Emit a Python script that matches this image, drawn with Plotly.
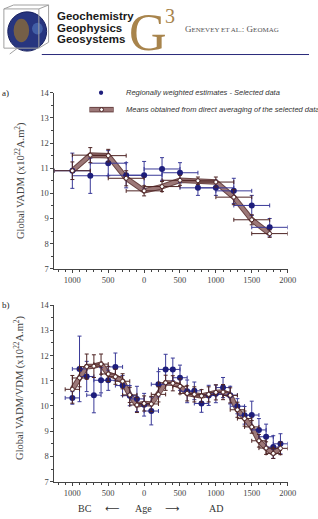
import plotly.graph_objects as go

# ---------------- data ----------------
# Panel a : 500-yr windows every 250 yr
years_a = [-1000, -750, -500, -250, 0, 250, 500, 750, 1000, 1250, 1500, 1750]
reg_a = [10.9, 10.7, 11.2, 10.72, 10.72, 10.97, 10.82, 10.22, 10.22, 10.1, 9.52, 8.65]
reg_a_err = [0.7, 0.7, 0.5, 0.5, 0.55, 0.45, 0.4, 0.3, 0.3, 0.5, 0.4, 0.35]
mean_a = [10.9, 11.52, 11.5, 10.6, 10.1, 10.27, 10.52, 10.5, 10.45, 9.85, 8.95, 8.4]
mean_a_err = [0.35, 0.3, 0.25, 0.3, 0.2, 0.2, 0.2, 0.15, 0.2, 0.3, 0.2, 0.15]
half_window_a = 250

# Panel b : 200-yr windows every 100 yr
years_b = [-1000, -900, -800, -700, -600, -500, -400, -300, -200, -100,
           0, 100, 200, 300, 400, 500, 600, 700, 800, 900,
           1000, 1100, 1200, 1300, 1400, 1500, 1600, 1700, 1800, 1900]
reg_b = [10.32, 11.47, 11.17, 10.43, 11.02, 11.02, 11.55, 10.81, 10.41, 10.28,
         10.05, 9.8, 10.86, 11.45, 11.45, 11.12, 10.58, 10.6, 10.1, 10.42,
         10.48, 10.73, 10.43, 9.99, 9.63, 9.64, 9.05, 8.78, 8.37, 8.5]
reg_b_err = [0.25, 1.3, 0.6, 0.7, 0.5, 0.4, 0.55, 0.4, 0.4, 0.5,
             0.45, 0.55, 0.5, 0.6, 0.45, 0.5, 0.45, 0.35, 0.35, 0.4,
             0.35, 0.4, 0.35, 0.3, 0.35, 0.55, 0.45, 0.5, 0.45, 0.4]
mean_b = [10.66, 11.11, 11.56, 11.58, 11.66, 11.27, 11.16, 10.98, 10.44, 10.04,
          10.1, 10.08, 10.46, 10.92, 10.9, 10.78, 10.5, 10.46, 10.4, 10.46,
          10.54, 10.55, 10.42, 9.85, 9.5, 9.17, 8.62, 8.33, 8.12, 8.32]
mean_b_err = [0.55, 0.35, 0.5, 0.45, 0.4, 0.3, 0.3, 0.3, 0.3, 0.3,
              0.3, 0.3, 0.3, 0.3, 0.3, 0.3, 0.3, 0.3, 0.25, 0.3,
              0.3, 0.3, 0.3, 0.3, 0.3, 0.25, 0.25, 0.25, 0.2, 0.25]
half_window_b = 100

x_tickvals = [-1000, -500, 0, 500, 1000, 1500, 2000]
x_ticktext = ["1000", "500", "0", "500", "1000", "1500", "2000"]
y_tickvals = [7, 8, 9, 10, 11, 12, 13, 14]

W, H = 318, 519
BLUE = "#1e1e7c"
BLUE_ERR = "#3a3a98"
BROWN_DARK = "#4e2424"
BROWN_EDGE = "#6a4444"
BROWN_LINE = "#9c7878"
TXT = "#444444"
SERIF = "Liberation Serif, Times New Roman, serif"
SANS = "Liberation Sans, Arial, sans-serif"


def px(x):
    return x / W


def py(y):
    return 1 - y / H


fig = go.Figure()


def add_panel(xs, reg, reg_err, mean, mean_err, hw, xa, ya):
    fig.add_trace(go.Scatter(x=xs, y=mean, mode="lines", xaxis=xa, yaxis=ya,
                             line=dict(color=BROWN_EDGE, width=5.5), showlegend=False,
                             hoverinfo="skip"))
    fig.add_trace(go.Scatter(x=xs, y=mean, mode="lines", xaxis=xa, yaxis=ya,
                             line=dict(color=BROWN_LINE, width=3.5), showlegend=False,
                             hoverinfo="skip"))
    fig.add_trace(go.Scatter(
        x=xs, y=reg, mode="markers", xaxis=xa, yaxis=ya, showlegend=False,
        marker=dict(color=BLUE, size=6),
        error_y=dict(type="data", array=reg_err, color=BLUE_ERR, thickness=1, width=2),
        error_x=dict(type="constant", value=hw, color=BLUE_ERR, thickness=1, width=2)))
    fig.add_trace(go.Scatter(
        x=xs, y=mean, mode="markers", xaxis=xa, yaxis=ya, showlegend=False,
        marker=dict(color="white", size=4, line=dict(color=BROWN_DARK, width=1)),
        error_y=dict(type="data", array=mean_err, color=BROWN_DARK, thickness=1, width=2),
        error_x=dict(type="constant", value=hw, color=BROWN_DARK, thickness=1, width=2)))


add_panel(years_a, reg_a, reg_a_err, mean_a, mean_a_err, half_window_a, "x", "y")
add_panel(years_b, reg_b, reg_b_err, mean_b, mean_b_err, half_window_b, "x2", "y2")

xdom = [px(56), px(296)]
ax_common = dict(showline=True, linecolor="#444444", linewidth=1, showgrid=False,
                 zeroline=False, ticks="outside", ticklen=3, tickcolor="#444444",
                 tickfont=dict(family=SERIF, size=8.5, color=TXT))
xcommon = dict(ax_common, range=[-1250, 2000], domain=xdom, tickvals=x_tickvals,
               ticktext=x_ticktext,
               minor=dict(dtick=100, tick0=0, ticks="outside", ticklen=2, tickcolor="#444444"))
ycommon = dict(ax_common, range=[7, 14], tickvals=y_tickvals,
               minor=dict(dtick=0.5, tick0=7, ticks="outside", ticklen=2, tickcolor="#444444"))

fig.update_layout(
    width=W, height=H, autosize=False,
    margin=dict(l=0, r=0, t=0, b=0),
    paper_bgcolor="white", plot_bgcolor="white",
    xaxis=dict(xcommon, anchor="y"),
    yaxis=dict(ycommon, domain=[py(269), py(89.5)], anchor="x"),
    xaxis2=dict(xcommon, anchor="y2"),
    yaxis2=dict(ycommon, domain=[py(486), py(306)], anchor="x2"),
)

annotations = []
shapes = []


def note(x, y, text, size, family=SERIF, color=TXT, xanchor="center", angle=0):
    annotations.append(dict(x=px(x), y=py(y), xref="paper", yref="paper", text=text,
                            xanchor=xanchor, yanchor="middle", textangle=angle,
                            showarrow=False, font=dict(family=family, size=size, color=color)))


# y-axis titles
note(20, 179, "Global VADM (x10<sup>22</sup>A.m<sup>2</sup>)", 10.5, angle=-90)
note(20, 390, "Global VADM/VDM (x10<sup>22</sup>A.m<sup>2</sup>)", 10.5, angle=-90)
# panel letters
note(0, 90, "a)", 9, color="#222", xanchor="left")
note(0, 306, "b)", 9, color="#222", xanchor="left")

# bottom "BC <- Age -> AD"
for xx, t, fam in [(87, "BC", SERIF), (115, "⟵", "DejaVu Sans"), (148, "Age", SERIF),
                   (177, "⟶", "DejaVu Sans"), (222, "AD", SERIF)]:
    note(xx, 513, t, 10, family=fam, color="#333")

# legend (drawn manually)
note(128, 89.5, "<i>Regionally weighted estimates - Selected data</i>", 7.5,
     family=SANS, color="#333", xanchor="left")
note(128, 106.7, "<i>Means obtained from direct averaging of the selected data</i>", 7.5,
     family=SANS, color="#333", xanchor="left")
shapes.append(dict(type="circle", xref="paper", yref="paper",
                   x0=px(101.8), x1=px(106.2), y0=py(91.7), y1=py(87.3),
                   fillcolor=BLUE, line=dict(color=BLUE, width=0)))
shapes.append(dict(type="line", xref="paper", yref="paper", x0=px(92), x1=px(117),
                   y0=py(106.7), y1=py(106.7), line=dict(color=BROWN_EDGE, width=5.5)))
shapes.append(dict(type="line", xref="paper", yref="paper", x0=px(92.5), x1=px(116.5),
                   y0=py(106.7), y1=py(106.7), line=dict(color=BROWN_LINE, width=3.5)))
shapes.append(dict(type="circle", xref="paper", yref="paper",
                   x0=px(102.5), x1=px(106.5), y0=py(108.7), y1=py(104.7),
                   fillcolor="white", line=dict(color=BROWN_DARK, width=1)))

# ---------------- header (journal banner) ----------------
shapes.append(dict(type="circle", xref="paper", yref="paper",
                   x0=px(8), x1=px(48), y0=py(47), y1=py(7),
                   fillcolor="#27357f", line=dict(color="#1a2260", width=1)))
shapes.append(dict(type="circle", xref="paper", yref="paper",
                   x0=px(14), x1=px(30), y0=py(38), y1=py(14),
                   fillcolor="#8a6a3a", line=dict(width=0), opacity=0.8))
shapes.append(dict(type="circle", xref="paper", yref="paper",
                   x0=px(33), x1=px(44), y0=py(30), y1=py(18),
                   fillcolor="#4a6ab0", line=dict(width=0), opacity=0.8))
for (x0, y0, x1, y1) in [(4, 4, 40, 4), (40, 4, 40, 44), (4, 4, 4, 44), (4, 44, 40, 44),
                         (14, 0, 50, 0), (50, 0, 50, 38), (4, 4, 14, 0), (40, 4, 50, 0),
                         (40, 44, 50, 38), (10, 50, 18, 44)]:
    shapes.append(dict(type="line", xref="paper", yref="paper",
                       x0=px(x0), x1=px(x1), y0=py(y0), y1=py(y1),
                       line=dict(color="#a0a0a0", width=1)))
for yy, t in [(11, "Geochemistry"), (23, "Geophysics"), (35, "Geosystems")]:
    note(57, yy, "<b>" + t + "</b>", 11.5, family=SANS, color="#1a1a1a", xanchor="left")
note(152, 28, "G", 52, color="#a8844c")
note(175, 11, "3", 20, color="#a8844c")
note(188, 24, "G<span style='font-size:7px'>ENEVEY ET AL.</span>: G<span style='font-size:7px'>EOMAG</span>",
     9, color="#555", xanchor="left")
shapes.append(dict(type="line", xref="paper", yref="paper", x0=px(43), x1=px(318),
                   y0=py(50.5), y1=py(50.5), line=dict(color="#2a2a7a", width=1)))

fig.update_layout(annotations=annotations, shapes=shapes)
fig.write_html("out.html")
